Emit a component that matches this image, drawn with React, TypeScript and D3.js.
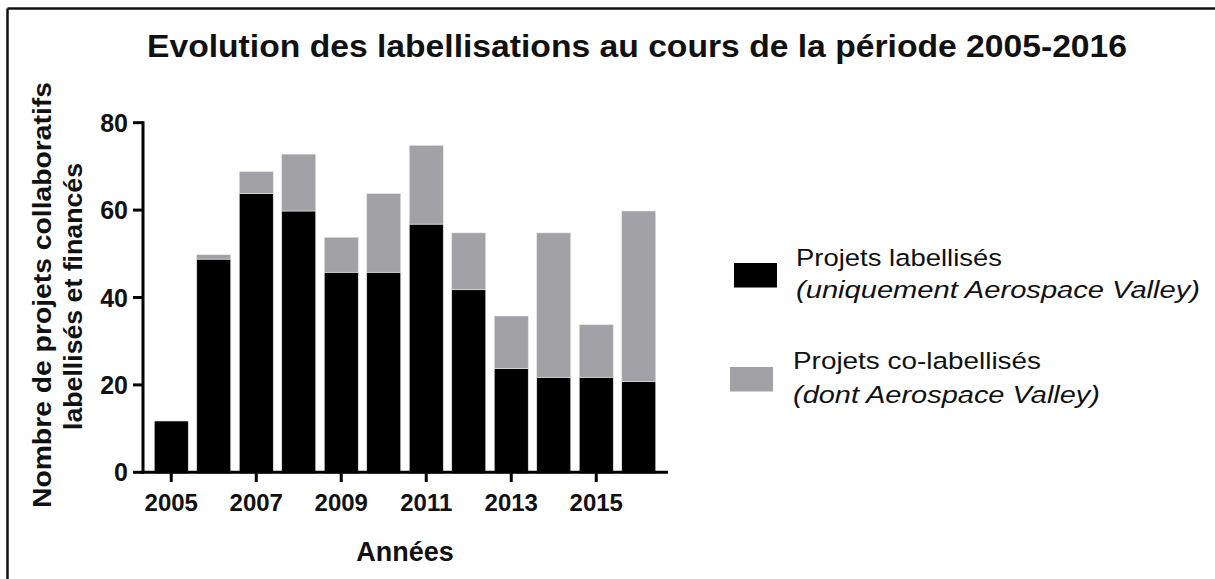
import React from "react";
import * as d3 from "d3";

const years = ["2005","2006","2007","2008","2009","2010","2011","2012","2013","2014","2015","2016"];
const labellises = [12, 49, 64, 60, 46, 46, 57, 42, 24, 22, 22, 21];
const coLabellises = [0, 1, 5, 13, 8, 18, 18, 13, 12, 33, 12, 39];
const yTicks = [0, 20, 40, 60, 80];
const xTickYears = ["2005","2007","2009","2011","2013","2015"];
const seriesNames = ["Projets labellisés", "Projets co-labellisés"];
const seriesSub = ["(uniquement Aerospace Valley)", "(dont Aerospace Valley)"];
const seriesColors = ["#000000", "#a2a1a6"];

const FONT = "'Liberation Sans', Arial, Helvetica, sans-serif";

export default function App() {
  const W = 1215, H = 579;
  const x = d3.scaleBand<string>().domain(years).range([150, 660]).paddingInner(0.2).paddingOuter(0.1);
  const y = d3.scaleLinear().domain([0, 80]).range([473.5, 123.5]);
  const yAxis = d3.scaleLinear().domain([0, 80]).range([472.3, 122.7]);
  const stackData = years.map((yr, i) => ({ year: yr, a: labellises[i], b: coLabellises[i] }));
  const stack = d3.stack<any>().keys(["a", "b"])(stackData);
  const axisY = yAxis(0);
  const axisX = 143;

  return (
    <svg width={W} height={H} style={{ position: "absolute", left: 0, top: 0, background: "#fff" }} fontFamily={FONT}>
      <rect x={0} y={0} width={W} height={H} fill="#fff" />
      {/* frame */}
      <line x1={7.5} y1={8.5} x2={W} y2={8.5} stroke="#111" strokeWidth={2.5} />
      <line x1={7.5} y1={8.5} x2={7.5} y2={H} stroke="#111" strokeWidth={2.5} />

      {/* title */}
      <text x={147} y={57} fontSize={32} fontWeight="bold" textLength={980} lengthAdjust="spacingAndGlyphs" fill="#111">
        Evolution des labellisations au cours de la période 2005-2016
      </text>

      {/* bars */}
      {stack.map((layer, si) => (
        <g key={si}>
          {layer.map((d: any, i: number) => {
            const h = y(d[0]) - y(d[1]);
            if (h <= 0) return null;
            return (
              <rect key={i} x={x(years[i])} y={y(d[1])} width={x.bandwidth()} height={h}
                fill={seriesColors[si]} stroke="#e6e6e6" strokeWidth={0.6} />
            );
          })}
        </g>
      ))}

      {/* y axis */}
      <line x1={axisX} y1={yAxis(80) - 1.5} x2={axisX} y2={axisY + 1.5} stroke="#000" strokeWidth={3} />
      {yTicks.map(t => (
        <g key={t}>
          <line x1={133} x2={axisX} y1={yAxis(t)} y2={yAxis(t)} stroke="#000" strokeWidth={3} />
          <text x={128} y={yAxis(t)} dy="0.36em" textAnchor="end" fontSize={25} fontWeight="bold" fill="#111">{t}</text>
        </g>
      ))}

      {/* x axis */}
      <line x1={axisX - 1.5} y1={axisY} x2={668} y2={axisY} stroke="#000" strokeWidth={3} />
      {xTickYears.map(yr => {
        const cx = (x(yr) as number) + x.bandwidth() / 2;
        return (
          <g key={yr}>
            <line x1={cx} x2={cx} y1={axisY} y2={482} stroke="#000" strokeWidth={3} />
            <text x={cx} y={510.5} textAnchor="middle" fontSize={24} fontWeight="bold" fill="#111">{yr}</text>
          </g>
        );
      })}

      {/* axis titles */}
      <text x={405} y={560.5} textAnchor="middle" fontSize={27} fontWeight="bold" fill="#111">Années</text>
      <text transform="translate(51,295) rotate(-90)" textAnchor="middle" fontSize={25} fontWeight="bold"
        textLength={426} lengthAdjust="spacingAndGlyphs" fill="#111">Nombre de projets collaboratifs</text>
      <text transform="translate(81.5,296.5) rotate(-90)" textAnchor="middle" fontSize={25} fontWeight="bold"
        textLength={267} lengthAdjust="spacingAndGlyphs" fill="#111">labellisés et financés</text>

      {/* legend */}
      {seriesNames.map((name, i) => {
        const top = i === 0 ? 263 : 367;
        const sx = i === 0 ? 734 : 730;
        const tx = i === 0 ? 796 : 793;
        const b1 = i === 0 ? 266 : 369;
        const b2 = i === 0 ? 298 : 403;
        const l1 = i === 0 ? 206 : 248;
        const l2 = i === 0 ? 404 : 307;
        return (
          <g key={name}>
            <rect x={sx} y={top} width={43} height={24.5} fill={seriesColors[i]} />
            <text x={tx} y={b1} fontSize={24.5} textLength={l1} lengthAdjust="spacingAndGlyphs" fill="#111">{name}</text>
            <text x={tx} y={b2} fontSize={24.5} fontStyle="italic" textLength={l2} lengthAdjust="spacingAndGlyphs" fill="#111">{seriesSub[i]}</text>
          </g>
        );
      })}
    </svg>
  );
}
